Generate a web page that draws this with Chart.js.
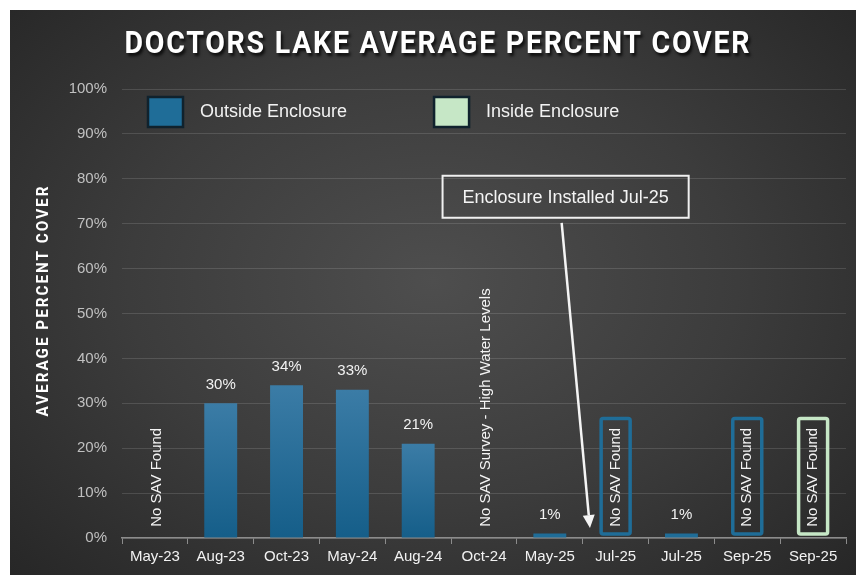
<!DOCTYPE html>
<html>
<head>
<meta charset="utf-8">
<title>Doctors Lake Average Percent Cover</title>
<script src="https://cdn.jsdelivr.net/npm/chart.js@4.4.1/dist/chart.umd.min.js"></script>
<style>
  html, body { margin: 0; padding: 0; background: #ffffff; overflow: hidden; }
  #panel {
    position: absolute; left: 10px; top: 10px; width: 846px; height: 565px;
    background: radial-gradient(ellipse 72% 78% at 50% 48%, #4e4e4e 0%, #3c3c3c 50%, #252525 100%);
  }
  canvas { display: block; }
</style>
</head>
<body>
<div id="panel"><canvas id="chart" width="846" height="565"></canvas></div>
<script>
// Survey dates and average percent cover
var categories = ['May-23', 'Aug-23', 'Oct-23', 'May-24', 'Aug-24', 'Oct-24', 'May-25', 'Jul-25', 'Jul-25', 'Sep-25', 'Sep-25'];
var outsideValues = [0, 30, 34, 33, 21, null, 1, 0, 1, 0, null];
var insideValues = [null, null, null, null, null, null, null, null, null, null, 0];

// vertical notes per survey, and which series draws a box around the note
var noteText = ['No SAV Found', null, null, null, null, 'No SAV Survey - High Water Levels', null, 'No SAV Found', null, 'No SAV Found', 'No SAV Found'];
var noteBox = [null, null, null, null, null, null, null, 'outside', null, 'outside', 'inside'];

var seriesLabels = ['Outside Enclosure', 'Inside Enclosure'];
var chartTitle = 'DOCTORS LAKE AVERAGE PERCENT COVER';
var yTitle = 'AVERAGE PERCENT COVER';
var calloutText = 'Enclosure Installed Jul-25';

var FONT = "'Liberation Sans', Arial, sans-serif";
var HEAD = "Roboto, 'Liberation Sans', sans-serif";
var OUTSIDE_COLOR = '#1f6d98';
var INSIDE_COLOR = '#c6e7c6';

function barGradient(ctx) {
  var chart = ctx.chart;
  if (!chart.chartArea) return OUTSIDE_COLOR;
  var y = chart.scales.y;
  var top = y.getPixelForValue(ctx.raw || 0);
  var base = y.getPixelForValue(0);
  if (!isFinite(top) || base - top < 6) return OUTSIDE_COLOR;
  var g = chart.ctx.createLinearGradient(0, top, 0, base);
  g.addColorStop(0, '#3b7ca6');
  g.addColorStop(1, '#155e89');
  return g;
}

// draws condensed text (horizontally squeezed) spread to a given width
function drawCondensed(ctx, text, cx, cy, width, squeeze, rotate) {
  ctx.save();
  ctx.translate(cx, cy);
  if (rotate) ctx.rotate(-Math.PI / 2);
  ctx.scale(squeeze, 1);
  ctx.letterSpacing = '0px';
  var w = ctx.measureText(text).width;
  var ls = (width / squeeze - w) / (text.length - 1);
  ctx.letterSpacing = ls + 'px';
  ctx.textAlign = 'center';
  ctx.textBaseline = 'middle';
  ctx.fillText(text, ls / 2, 0);
  ctx.restore();
}

var overlayPlugin = {
  id: 'overlay',
  afterDatasetsDraw: function(chart) {
    var ctx = chart.ctx;
    var x = chart.scales.x;
    var y = chart.scales.y;
    var area = chart.chartArea;
    var meta = chart.getDatasetMeta(0);

    ctx.save();

    // value labels
    ctx.font = '15px ' + FONT;
    ctx.fillStyle = '#f2f2f2';
    ctx.textAlign = 'center';
    ctx.textBaseline = 'bottom';
    outsideValues.forEach(function(v, i) {
      if (v === null || v <= 0) return;
      var bar = meta.data[i];
      ctx.fillText(v + '%', bar.x, bar.y - 11);
    });

    // boxed notes
    noteBox.forEach(function(kind, i) {
      if (!kind) return;
      var cx = x.getPixelForValue(i);
      var w = 29;
      var top = y.getPixelForValue(26.6);
      var bottom = y.getPixelForValue(0.9);
      ctx.strokeStyle = kind === 'inside' ? INSIDE_COLOR : OUTSIDE_COLOR;
      ctx.lineWidth = 3.5;
      ctx.beginPath();
      ctx.roundRect(cx - w / 2, top, w, bottom - top, 2);
      ctx.stroke();
    });

    // vertical notes
    ctx.fillStyle = '#f4f4f4';
    ctx.textAlign = 'left';
    ctx.textBaseline = 'middle';
    noteText.forEach(function(t, i) {
      if (!t) return;
      var cx = x.getPixelForValue(i) + (noteBox[i] ? 0 : 2);
      var by = y.getPixelForValue(2.5);
      ctx.save();
      ctx.translate(cx, by);
      ctx.rotate(-Math.PI / 2);
      ctx.font = '15px ' + FONT;
      ctx.fillText(t, 0, 0);
      ctx.restore();
    });

    // callout box
    ctx.font = '18px ' + FONT;
    var tw = ctx.measureText(calloutText).width;
    var bcx = x.getPixelForValue(6.24);
    var bcy = y.getPixelForValue(76);
    var bw = tw + 40;
    var bh = 42;
    ctx.strokeStyle = '#f0f0f0';
    ctx.lineWidth = 2;
    ctx.strokeRect(bcx - bw / 2, bcy - bh / 2, bw, bh);
    ctx.fillStyle = '#f4f4f4';
    ctx.textAlign = 'center';
    ctx.textBaseline = 'middle';
    ctx.fillText(calloutText, bcx, bcy + 1);

    // arrow
    var x0 = x.getPixelForValue(6.18), y0 = y.getPixelForValue(70.2);
    var x1 = x.getPixelForValue(6.61), y1 = y.getPixelForValue(2.2);
    var ang = Math.atan2(y1 - y0, x1 - x0);
    var hl = 13, hw = 6;
    var bx = x1 - hl * Math.cos(ang), byy = y1 - hl * Math.sin(ang);
    ctx.strokeStyle = '#f4f4f4';
    ctx.lineWidth = 2.5;
    ctx.beginPath();
    ctx.moveTo(x0, y0);
    ctx.lineTo(bx, byy);
    ctx.stroke();
    ctx.fillStyle = '#f4f4f4';
    ctx.beginPath();
    ctx.moveTo(x1, y1);
    ctx.lineTo(bx + hw * Math.sin(ang), byy - hw * Math.cos(ang));
    ctx.lineTo(bx - hw * Math.sin(ang), byy + hw * Math.cos(ang));
    ctx.closePath();
    ctx.fill();

    // legend
    var lx = area.left + 26;
    var ly = area.top + 8;
    var fills = [OUTSIDE_COLOR, INSIDE_COLOR];
    ctx.font = '18px ' + FONT;
    ctx.textAlign = 'left';
    ctx.textBaseline = 'middle';
    seriesLabels.forEach(function(label, k) {
      ctx.fillStyle = fills[k];
      ctx.fillRect(lx, ly, 35, 30);
      ctx.strokeStyle = '#10222d';
      ctx.lineWidth = 2.5;
      ctx.strokeRect(lx, ly, 35, 30);
      ctx.fillStyle = '#f2f2f2';
      ctx.fillText(label, lx + 52, ly + 15);
      lx += 52 + ctx.measureText(label).width + 87;
    });

    // y axis title
    ctx.fillStyle = '#ffffff';
    ctx.font = 'bold 17px ' + HEAD;
    drawCondensed(ctx, yTitle, 34, (area.top + area.bottom) / 2 - 12, 230, 0.9, true);

    // chart title
    ctx.font = 'bold 31px ' + HEAD;
    ctx.shadowColor = 'rgba(0,0,0,0.75)';
    ctx.shadowOffsetX = 2;
    ctx.shadowOffsetY = 3;
    ctx.shadowBlur = 3;
    drawCondensed(ctx, chartTitle, 427, 35, 625, 0.92, false);

    ctx.restore();
  }
};

new Chart(document.getElementById('chart'), {
  type: 'bar',
  data: {
    labels: categories,
    datasets: [
      { label: seriesLabels[0], data: outsideValues, backgroundColor: barGradient, borderWidth: 0 },
      { label: seriesLabels[1], data: insideValues, backgroundColor: INSIDE_COLOR, borderWidth: 0 }
    ]
  },
  options: {
    responsive: false,
    animation: false,
    layout: { padding: { top: 79, left: 0, right: 10, bottom: 0 } },
    datasets: { bar: { grouped: false, categoryPercentage: 1, barPercentage: 0.5 } },
    plugins: {
      legend: { display: false },
      title: { display: false },
      tooltip: { enabled: false }
    },
    scales: {
      x: {
        grid: { display: true, drawOnChartArea: false, drawTicks: true, tickLength: 6, color: '#8c8c8c', offset: true },
        border: { display: true, color: '#8c8c8c', width: 1.5 },
        ticks: { color: '#f2f2f2', font: { family: FONT, size: 15 }, padding: 4, maxRotation: 0, autoSkip: false },
        afterFit: function(s) { s.height = 37; }
      },
      y: {
        min: 0,
        max: 100,
        ticks: {
          stepSize: 10,
          color: '#c0c0c0',
          font: { family: FONT, size: 15 },
          padding: 15,
          callback: function(v) { return v + '%'; }
        },
        grid: { color: 'rgba(255,255,255,0.13)', drawTicks: false },
        border: { display: false },
        afterFit: function(s) { s.width = 112; }
      }
    }
  },
  plugins: [overlayPlugin]
});
</script>
</body>
</html>
